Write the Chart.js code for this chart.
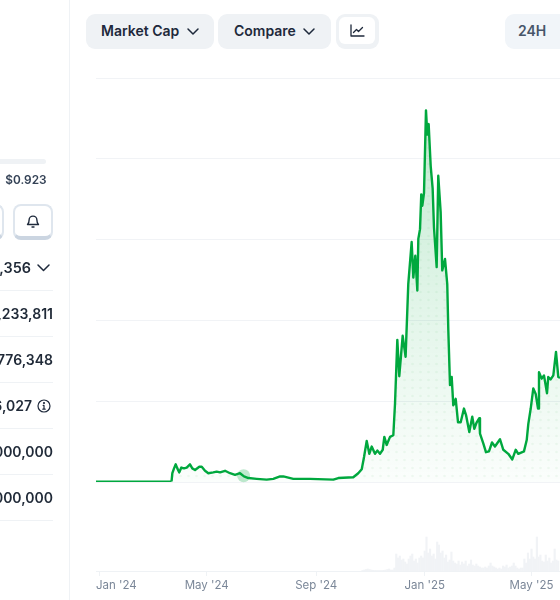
<!DOCTYPE html>
<html><head><meta charset="utf-8">
<script src="https://cdn.jsdelivr.net/npm/chart.js@4"></script>
<style>
html,body{margin:0;padding:0;width:560px;height:600px;overflow:hidden;background:#fff;font-family:Inter,sans-serif;color:#1f2937}
#c{position:absolute;left:0;top:0;width:560px;height:600px}
.abs{position:absolute}
.btn{position:absolute;top:14px;height:35px;background:#eff2f5;border-radius:9px;font-size:14px;font-weight:600;line-height:34px;color:#1e293b;box-sizing:border-box}
.row{position:absolute;left:-100px;width:153px;text-align:right;font-size:14px;font-weight:600;line-height:20px;color:#1f2937;white-space:nowrap}
.div{position:absolute;left:0;width:53px;height:1px;background:#eff2f5}
svg{position:absolute;overflow:visible}
</style></head><body>
<canvas id="c" width="560" height="600"></canvas>
<div class="abs" style="left:69px;top:0;width:1px;height:600px;background:#eff2f5"></div>
<div class="abs" style="left:-6px;top:159px;width:52px;height:5px;background:#eff2f5;border-radius:3px"></div>
<div class="abs" style="left:-60px;width:106.5px;top:172px;text-align:right;font-size:11.8px;font-weight:600;line-height:16px;color:#334155">$0.923</div>
<div class="abs" style="left:-40px;top:204px;width:44px;height:36px;box-sizing:border-box;border:2px solid #dfe6ee;border-bottom:4px solid #cbd5e1;border-radius:8px"></div>
<div class="abs" style="left:13px;top:204px;width:40px;height:36px;box-sizing:border-box;border:2px solid #dfe6ee;border-bottom:4px solid #cbd5e1;border-radius:8px"></div>
<svg style="left:26px;top:213px" width="14" height="16" fill="none" stroke="#1e293b" stroke-width="1.4" stroke-linecap="round" stroke-linejoin="round"><path d="M1.5 11.5c1.2-1 1.6-2.2 1.6-4.5a3.9 3.9 0 0 1 7.8 0c0 2.3.4 3.5 1.6 4.5z"/><path d="M6 14h2"/></svg>
<div class="row" style="top:258px;width:131px;font-size:14.4px">$1,179,356</div>
<svg style="left:37px;top:264px" width="13" height="8" fill="none" stroke="#1e293b" stroke-width="1.5" stroke-linecap="round" stroke-linejoin="round"><path d="M1 1l5.5 5.5L12 1"/></svg>
<div class="div" style="top:290px"></div>
<div class="row" style="top:304px">$1,233,811</div>
<div class="div" style="top:336px"></div>
<div class="row" style="top:350px">$776,348</div>
<div class="div" style="top:382px"></div>
<div class="row" style="top:396px;width:132px">$6,027</div>
<svg style="left:37px;top:399px" width="14" height="14" fill="none" stroke="#1e293b" stroke-width="1.2" stroke-linecap="round"><circle cx="7" cy="7" r="6"/><path d="M7 6.5v3.5M5.8 10.2h2.4M6.2 6.4H7" /><circle cx="7" cy="4" r=".5"/></svg>
<div class="div" style="top:428px"></div>
<div class="row" style="top:442px">1,000,000,000</div>
<div class="div" style="top:474px"></div>
<div class="row" style="top:488px">1,000,000,000</div>
<div class="div" style="top:520px"></div>

<div class="btn" style="left:86px;width:128px;padding-left:15px">Market Cap</div>
<svg style="left:187px;top:28px" width="12" height="8" fill="none" stroke="#1e293b" stroke-width="1.5" stroke-linecap="round" stroke-linejoin="round"><path d="M1 1l5 5 5-5"/></svg>
<div class="btn" style="left:218px;width:113px;padding-left:16px">Compare</div>
<svg style="left:303px;top:28px" width="12" height="8" fill="none" stroke="#1e293b" stroke-width="1.5" stroke-linecap="round" stroke-linejoin="round"><path d="M1 1l5 5 5-5"/></svg>
<div class="abs" style="left:336px;top:14px;width:43px;height:35px;background:#eff2f5;border-radius:9px"></div>
<div class="abs" style="left:339px;top:17px;width:36px;height:27px;background:#fff;border-radius:6px"></div>
<svg style="left:350px;top:24px" width="15" height="14" fill="none" stroke="#1e293b" stroke-width="1.3" stroke-linecap="round" stroke-linejoin="round"><path d="M1 1v11h13"/><path d="M3.5 8.5l3-3 2 2 4-4"/></svg>
<div class="btn" style="left:505px;width:80px;padding-left:13px;background:#f1f5f9;color:#475569">24H</div>

<script>
const xTickDays = [-3.4, 0, 121, 244, 366, 486, 518];
const xTickLabels = ["Jan '24", "", "May '24", "Sep '24", "Jan '25", "May '25", ""];
const yTickValues = [0, 1, 2, 3, 4, 5];

const capDays = [-3.4,81.5,82.4,84.3,86.2,88.0,90.2,92.5,95.5,98.5,102.2,104.8,107.9,112.7,115.4,119.1,122.8,128.4,132.2,136.0,141.6,147.2,152.8,158.4,162.9,167.8,177.2,188.4,195.8,203.4,207.1,218.3,237.1,263.3,268.9,285.7,291.3,295.2,297.8,300.8,303.7,306.4,310.1,312.7,315.7,318.8,320.6,323.2,327.0,330.7,332.6,335.2,337.4,341.2,344.5,347.5,351.3,353.2,355.4,357.7,358.8,360.7,362.1,363.3,365.2,367.4,368.9,370.4,372.7,374.9,376.4,379.4,381.2,383.9,385.7,388.8,391.3,392.5,394.4,396.3,398.1,400.8,403.4,406.4,410.1,412.4,416.1,419.4,421.7,424.4,427.3,428.1,431.8,434.8,438.2,441.6,444.9,450.6,454.3,459.9,464.4,468.2,471.1,477.5,480.6,482.4,485.1,488.0,490.7,493.3,494.4,497.4,500,503.4,504.8,507.5,510.5,513.5,516.1,518];
const capValues = [0.01,0.01,0.11,0.17,0.22,0.17,0.12,0.18,0.17,0.18,0.22,0.17,0.15,0.19,0.19,0.14,0.11,0.12,0.13,0.12,0.14,0.11,0.09,0.11,0.07,0.05,0.04,0.03,0.04,0.07,0.07,0.04,0.04,0.03,0.05,0.06,0.11,0.16,0.31,0.51,0.35,0.44,0.35,0.39,0.35,0.40,0.56,0.46,0.56,0.58,0.97,1.76,1.31,1.81,1.55,2.45,2.97,2.53,2.80,2.37,3.01,3.13,3.56,3.42,3.58,4.60,4.30,4.43,3.91,3.63,3.15,2.66,3.79,3.34,2.62,2.76,2.45,1.88,1.20,1.30,0.95,1.03,0.74,0.74,0.91,0.83,0.62,0.81,0.66,0.74,0.79,0.60,0.48,0.37,0.38,0.49,0.44,0.53,0.40,0.35,0.28,0.40,0.35,0.38,0.52,0.72,0.91,1.16,1.09,0.91,1.36,1.28,1.32,1.10,1.30,1.27,1.32,1.61,1.30,1.29];

const volumeDays = [296,298,300,302,304,306,308,310,312,314,316,318,320,322,324,326,328,330,332,334,336,338,340,342,344,346,348,350,352,354,356,358,360,362,364,366,368,370,372,374,376,378,380,382,384,386,388,390,392,394,396,398,400,402,404,406,408,410,412,414,416,418,420,422,424,426,428,430,432,434,436,438,440,442,444,446,448,450,452,454,456,458,460,462,464,466,468,470,472,474,476,478,480,482,484,486,488,490,492,494,496,498,500,502,504,506,508,510,512,514,516];
const volumeValues = [0.5,1,1.5,2,1.5,1,0.7,0.5,0.5,0.5,0.5,0.5,0.7,1,1.5,2,1,1,3,17,13,15,11,12,9,7,12,15,17,10,12,8,13,15,13,20,34,18,22,15,17,12,29,26,18,20,13,16,9,11,19,10,8,7,10,6,9,7,10,5,7,11,6,5,7,5,4,3,3,4,3,5,8,5,4,3,2,3,2,5,4,6,3,4,5,8,5,3,2,3,3,12,8,18,12,22,14,12,34,14,16,10,9,16,10,13,8,10,22,11,10];

const markerDays = [162.5];
const markerValues = [0.08];

const GREEN = '#00a83e';
function areaPattern(ctx){
  const t = document.createElement('canvas'); t.width = 8; t.height = 600;
  const g = t.getContext('2d');
  const gr = g.createLinearGradient(0,110,0,482);
  gr.addColorStop(0,'rgba(0,168,62,0.24)');
  gr.addColorStop(0.55,'rgba(0,168,62,0.11)');
  gr.addColorStop(1,'rgba(0,168,62,0.015)');
  g.fillStyle = gr; g.fillRect(0,0,8,600);
  g.fillStyle = 'rgba(0,168,62,0.055)';
  for(let y=4;y<600;y+=8){ g.beginPath(); g.arc(4.5,y,1.3,0,7); g.fill(); }
  return ctx.createPattern(t,'repeat');
}
const canvas = document.getElementById('c');
const ctx = canvas.getContext('2d');
new Chart(ctx,{
  data:{datasets:[
    {type:'line',order:0,yAxisID:'y',data:markerDays.map((d,i)=>({x:d,y:markerValues[i]})),showLine:false,pointRadius:6.5,pointBackgroundColor:'rgba(0,168,62,0.25)',pointBorderWidth:0},
    {type:'line',order:1,yAxisID:'y',data:capDays.map((d,i)=>({x:d,y:capValues[i]})),borderColor:GREEN,borderWidth:2.4,pointRadius:0,tension:0,fill:{value:0},backgroundColor:areaPattern(ctx),borderJoinStyle:'round',
      segment:{borderWidth:c=>c.p0DataIndex===0?1.4:undefined}},
    {type:'bar',order:2,yAxisID:'v',data:volumeDays.map((d,i)=>({x:d,y:volumeValues[i]})),backgroundColor:'#f1f3f6',barThickness:1.5,borderWidth:0}
  ]},
  options:{
    responsive:false,animation:false,devicePixelRatio:1,
    layout:{autoPadding:false,padding:{left:96,top:78,right:0,bottom:0}},
    plugins:{legend:{display:false},tooltip:{enabled:false}},
    scales:{
      x:{type:'linear',min:-3.4,max:518,offset:false,
        afterBuildTicks:s=>{s.ticks=xTickDays.map(v=>({value:v}));},
        afterFit:s=>{s.height=29;s.paddingLeft=0;s.paddingRight=0;},
        ticks:{align:'inner',autoSkip:false,maxRotation:0,padding:3,color:'#7b8798',font:{family:'Inter',size:11.5},
          callback:(v)=>xTickLabels[xTickDays.indexOf(v)]},
        grid:{offset:false,drawOnChartArea:false,tickLength:5,tickColor:c=>c.index===0?'rgba(0,0,0,0)':'#eff2f5'},
        border:{color:'#eff2f5'}},
      y:{type:'linear',min:-1.1,max:5,position:'left',
        afterBuildTicks:s=>{s.ticks=yTickValues.map(v=>({value:v}));},
        afterFit:s=>{s.width=0;},
        ticks:{display:false},
        grid:{color:'#f1f3f6',drawTicks:false},border:{display:false}},
      v:{type:'linear',min:0,max:493,display:false}
    }
  }
});
</script>
</body></html>
